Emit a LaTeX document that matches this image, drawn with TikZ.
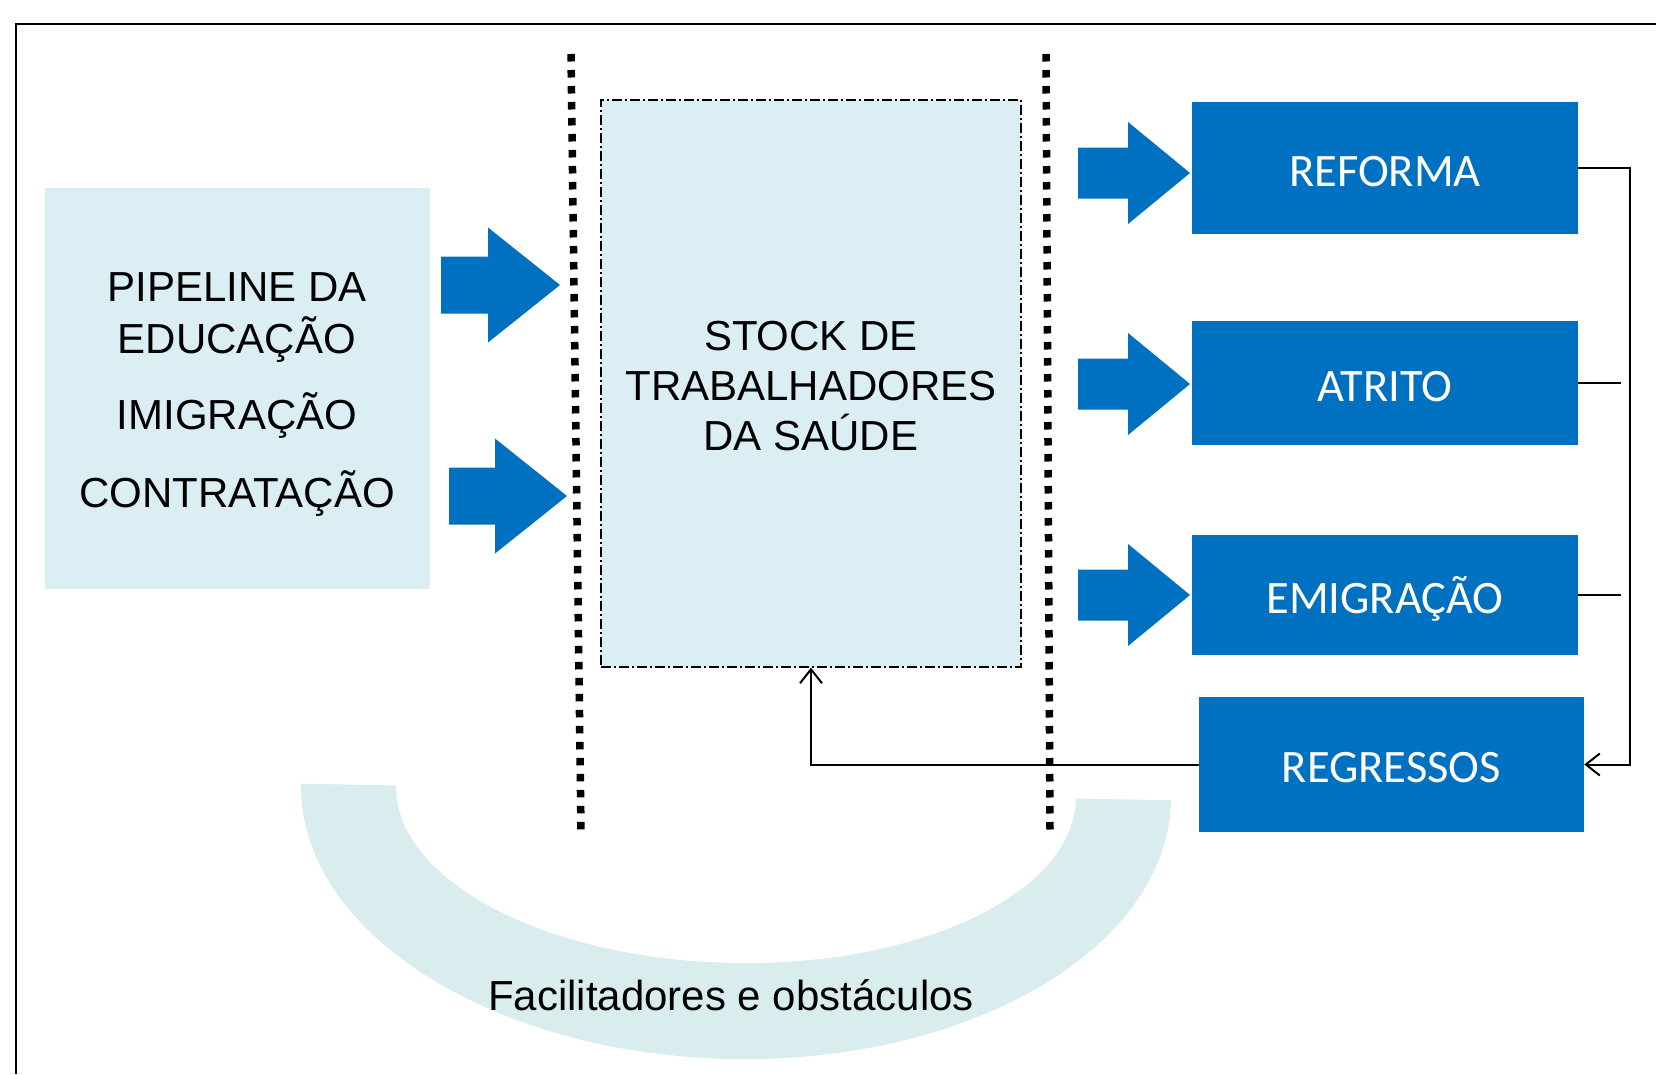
\documentclass[tikz,border=0pt]{standalone}
\usepackage{fontspec}
\setmainfont{Liberation Sans}
\newfontfamily\calibrifont{Carlito}
\usetikzlibrary{arrows.meta}
\definecolor{boxblue}{HTML}{0070C0}
\definecolor{lightblue}{HTML}{DAEEF3}
\definecolor{arcblue}{HTML}{DAEDEE}
\newcommand{\blockarr}[6]{% x0, xbase, xtip, y, shaft half, head half
  \fill[boxblue] (#1,#4-#5) -- (#2,#4-#5) -- (#2,#4-#6) -- (#3,#4) -- (#2,#4+#6) -- (#2,#4+#5) -- (#1,#4+#5) -- cycle;}
\begin{document}
\begin{tikzpicture}[x=1pt,y=-1pt,
  bluebox/.style={fill=boxblue, text=white, inner sep=0pt, text height=36pt, text depth=0pt,
                  font=\calibrifont\fontsize{46.5}{56}\selectfont},
  lightbox/.style={fill=lightblue, inner sep=0pt},
  bigtext/.style={font=\fontsize{42}{50}\selectfont, text=black, inner sep=0pt},
  dotline/.style={line width=7.5pt, dash pattern=on 7.5pt off 8.5pt},
  conn/.style={line width=2pt},
  tip/.style={-{Straight Barb[length=14pt,width=22pt,line width=2pt]}},
]
\fill[white] (0,0) rectangle (1656,1074);
\useasboundingbox (0,0) rectangle (1656,1074);

% arc (facilitators and obstacles)
\begin{scope}[rotate around={-1.1:(736,792)}]
\fill[arcblue] (736-435,792) arc[start angle=180, end angle=0, x radius=435, y radius=267]
   -- (736+340,792) arc[start angle=0, end angle=180, x radius=340, y radius=171] -- cycle;
\end{scope}
\node[bigtext, anchor=base] (fac) at (731,1010) {Facilitadores e obstáculos};

% outer frame
\draw[line width=2.5pt] (16,1074) -- (16,24) -- (1656,24);

% left box
\node[lightbox, minimum width=385pt, minimum height=401pt] (edu) at (237.5,388.5) {};
\node[bigtext, anchor=base] (t1) at (237,301) {PIPELINE DA};
\node[bigtext, anchor=base] (t2) at (237,353) {EDUCAÇÃO};
\node[bigtext, anchor=base] (t3) at (237,429) {IMIGRAÇÃO};
\node[bigtext, anchor=base] (t4) at (237,507) {CONTRATAÇÃO};

% stock box
\node[lightbox, draw=black, line width=1.3pt, dash pattern=on 10pt off 3pt on 2pt off 3pt,
      minimum width=420pt, minimum height=567pt] (stock) at (811,383.5) {};
\node[bigtext, align=center] (stocktext) at (811,386) {STOCK DE\\TRABALHADORES\\DA SAÚDE};

% dotted separators
\draw[dotline] (571,54) -- (581,831);
\draw[dotline] (1046,54) -- (1050,831);

% block arrows
\blockarr{441}{488}{560}{285}{28.5}{57.5}
\blockarr{449}{495}{567}{496}{28.5}{57.5}
\blockarr{1078}{1128}{1190}{173}{25.5}{51}
\blockarr{1078}{1128}{1190}{384}{25.5}{51}
\blockarr{1078}{1128}{1190}{595}{25.5}{51}

% blue boxes
\node[bluebox, minimum width=386pt, minimum height=132pt] (reforma) at (1385,168) {REFORMA};
\node[bluebox, minimum width=386pt, minimum height=124pt] (atrito) at (1385,383) {ATRITO};
\node[bluebox, minimum width=386pt, minimum height=120pt] (emig) at (1385,595) {EMIGRAÇÃO};
\node[bluebox, minimum width=385pt, minimum height=135pt] (regr) at (1391.5,764.5) {REGRESSOS};

% connectors
\draw[conn, tip] (reforma.east) -- ++(52,0) |- (regr.east);
\draw[line width=2.6pt] (atrito.east) -- ++(43,0);
\draw[line width=2.6pt] (emig.east) -- ++(43,0);
\draw[conn, tip] (regr.west) -| (stock.south);
\end{tikzpicture}
\end{document}
